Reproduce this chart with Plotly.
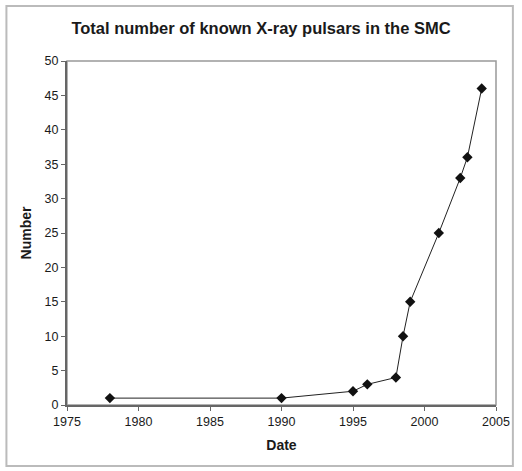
import plotly.graph_objects as go

years = [1978, 1990, 1995, 1996, 1998, 1998.5, 1999, 2001, 2002.5, 2003, 2004]
counts = [1, 1, 2, 3, 4, 10, 15, 25, 33, 36, 46]

title_text = "Total number of known X-ray pulsars in the SMC"
x_title = "Date"
y_title = "Number"

W, H = 522, 471
L, R, T, B = 67, 23, 61, 66
pw, ph = W - L - R, H - T - B

fig = go.Figure()
fig.add_trace(go.Scatter(
    x=years, y=counts, mode="lines+markers",
    line=dict(color="#222222", width=1),
    marker=dict(symbol="diamond", size=8, color="#111111"),
    showlegend=False,
))

font = "Liberation Sans, Arial, sans-serif"
fig.update_layout(
    width=W, height=H,
    margin=dict(l=L, r=R, t=T, b=B),
    paper_bgcolor="white", plot_bgcolor="white",
    title=dict(text="<b>" + title_text + "</b>", x=0.5, xanchor="center",
               y=1 - 28 / H, yanchor="middle",
               font=dict(family=font, size=16.5, color="#1a1a1a")),
    font=dict(family=font, size=12.5, color="#1a1a1a"),
    xaxis=dict(range=[1975, 2005], dtick=5, tick0=1975, showgrid=False,
               zeroline=False, showline=True, linecolor="#666666", linewidth=2,
               mirror=False, ticks="outside", ticklen=4, tickcolor="#666666",
               title=dict(text="<b>" + x_title + "</b>", standoff=12,
                          font=dict(size=14))),
    yaxis=dict(range=[0, 50], dtick=5, showgrid=False, zeroline=False,
               showline=True, linecolor="#666666", linewidth=2,
               ticks="outside", ticklen=4, tickcolor="#666666",
               title=dict(text="<b>" + y_title + "</b>", standoff=10,
                          font=dict(size=14))),
    shapes=[
        dict(type="rect", xref="paper", yref="paper", x0=0, x1=1, y0=0, y1=1,
             line=dict(color="#999999", width=1.5), layer="below"),
        dict(type="rect", xref="paper", yref="paper",
             x0=(6 - L) / pw, x1=(516 - L) / pw,
             y0=(T + ph - 466) / ph, y1=(T + ph - 6) / ph,
             line=dict(color="#bbbbbb", width=2)),
    ],
)

fig.write_html("out.html", config={"displayModeBar": False},
               post_script="document.body.style.margin='0';")
